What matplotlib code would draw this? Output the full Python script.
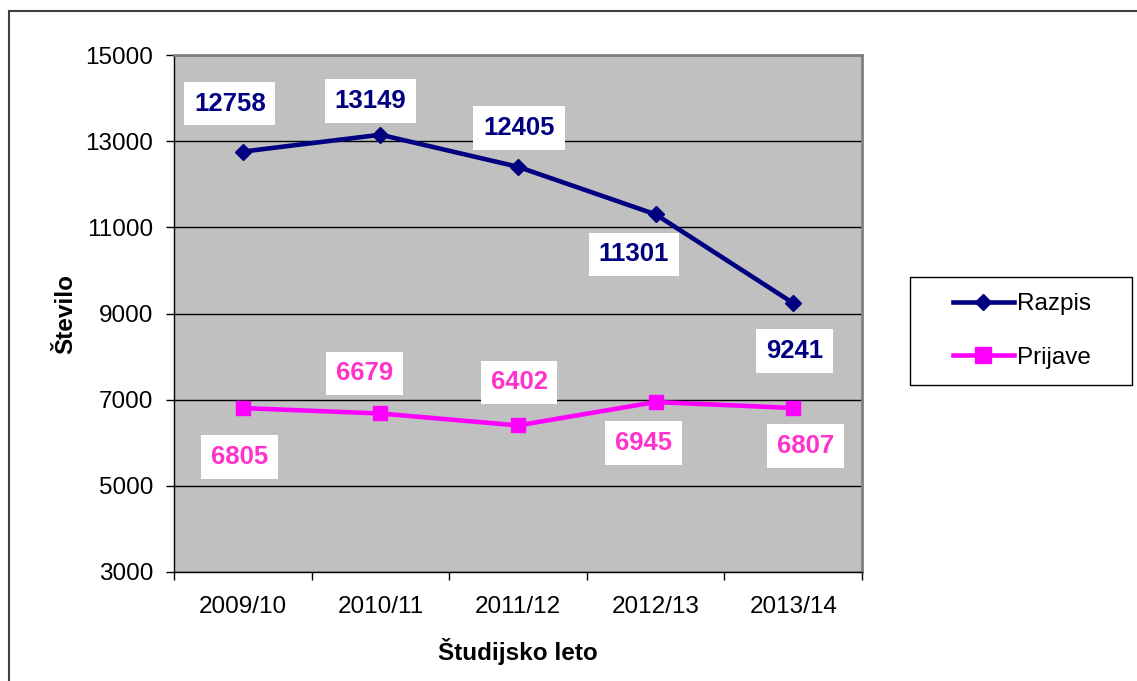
import matplotlib
matplotlib.use("Agg")
import matplotlib.pyplot as plt
from matplotlib.patches import Rectangle
from matplotlib.lines import Line2D

years = ["2009/10", "2010/11", "2011/12", "2012/13", "2013/14"]
razpis = [12758, 13149, 12405, 11301, 9241]
prijave = [6805, 6679, 6402, 6945, 6807]
y_ticks = [3000, 5000, 7000, 9000, 11000, 13000, 15000]

# label offsets in pixels (dx, dy)
razpis_off = [(-13, 48), (-10, 34), (1, 39), (-22, -40), (1, -48)]
prijave_off = [(-3, -49), (-16, 40), (1, 43), (-12, -41), (12, -38)]

plt.rcParams["font.family"] = ["Liberation Sans", "DejaVu Sans"]

W, H = 1137, 681
fig = plt.figure(figsize=(W / 100, H / 100), dpi=100)
ax = fig.add_axes([174 / W, 1 - 572 / H, (862 - 174) / W, (572 - 55) / H])
ax.set_facecolor("#C0C0C0")

x = list(range(len(years)))
ax.plot(x, razpis, color="#000080", lw=3.3, marker="D", ms=8, zorder=3)
ax.plot(x, prijave, color="#FF00FF", lw=3.3, marker="s", ms=10.5, zorder=3)

px = 0.72  # points per pixel
for i, v in enumerate(razpis):
    dx, dy = razpis_off[i]
    ax.annotate(str(v), (i, v), xytext=(dx * px, dy * px), textcoords="offset points",
                ha="center", va="center", fontsize=18.5, fontweight="bold", color="#000080",
                bbox=dict(boxstyle="square,pad=0.38", fc="white", ec="none"), zorder=4)
for i, v in enumerate(prijave):
    dx, dy = prijave_off[i]
    ax.annotate(str(v), (i, v), xytext=(dx * px, dy * px), textcoords="offset points",
                ha="center", va="center", fontsize=18.5, fontweight="bold", color="#FF33CC",
                bbox=dict(boxstyle="square,pad=0.38", fc="white", ec="none"), zorder=4)

ax.set_xlim(-0.5, len(years) - 0.5)
ax.set_ylim(3000, 15000)
ax.set_yticks(y_ticks)
ax.set_yticklabels([str(t) for t in y_ticks], fontsize=17.5)
ax.set_xticks(x)
ax.set_xticklabels(years, fontsize=17.5)
ax.set_xticks([i - 0.5 for i in range(len(years) + 1)], minor=True)
ax.tick_params(axis="x", which="major", length=0, pad=17)
ax.tick_params(axis="x", which="minor", length=6, width=1, direction="out")
ax.tick_params(axis="y", length=6, width=1, pad=9)
ax.grid(axis="y", color="black", lw=1)
ax.set_axisbelow(True)

for s in ["top", "right"]:
    ax.spines[s].set_color("#808080")
    ax.spines[s].set_linewidth(2)
for s in ["left", "bottom"]:
    ax.spines[s].set_color("black")
    ax.spines[s].set_linewidth(1)

ax.set_xlabel("Študijsko leto", fontsize=17.5, fontweight="bold", labelpad=15)
ax.set_ylabel("Število", fontsize=17.5, fontweight="bold", labelpad=6)

handles = [
    Line2D([], [], color="#000080", lw=3.3, marker="D", ms=8),
    Line2D([], [], color="#FF00FF", lw=3.3, marker="s", ms=11),
]
leg = fig.legend(handles, ["Razpis", "Prijave"], loc="center",
                 bbox_to_anchor=(1022 / W, 1 - 331 / H), frameon=False,
                 fontsize=17.5, handlelength=2.5, handletextpad=0.15, labelspacing=1.3,
                 borderpad=0, borderaxespad=0)
# legend frame drawn at the reference box position
fig.patches.append(Rectangle((910 / W, 1 - 385 / H), 222 / W, 108 / H,
                             transform=fig.transFigure, fill=False, ec="black", lw=1))

# outer chart border (left and top visible)
fig.patches.append(Rectangle((9 / W, -0.1), 1.2, 1.1 - 11 / H, transform=fig.transFigure,
                             fill=False, ec="#404040", lw=1.5))

fig.savefig("out.png", dpi=100)
